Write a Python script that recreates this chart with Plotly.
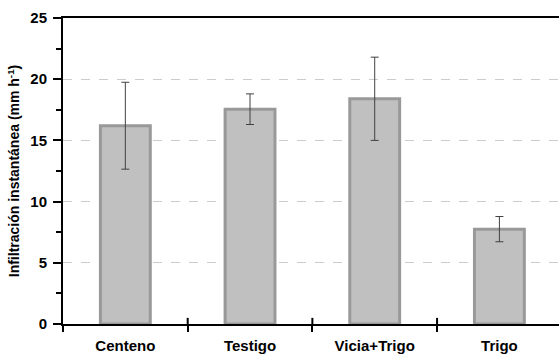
import plotly.graph_objects as go

categories = ["Centeno", "Testigo", "Vicia+Trigo", "Trigo"]
values = [16.2, 17.55, 18.4, 7.75]
errors = [3.55, 1.25, 3.4, 1.03]
y_ticks = [0, 5, 10, 15, 20, 25]

FONT = "Liberation Sans, Arial, sans-serif"

fig = go.Figure()
fig.add_trace(go.Bar(
    x=categories, y=values, width=0.4,
    marker=dict(color="#c0c0c0", line=dict(color="#999999", width=3)),
    error_y=dict(type="data", array=errors, visible=True, color="#404040",
                 thickness=1, width=4),
))

# category boundary ticks crossing the axis line (inside part)
for b in [0.5, 1.5, 2.5]:
    fig.add_shape(type="line", xref="x", yref="paper", x0=b, x1=b, y0=0, y1=0.02,
                  line=dict(color="black", width=2))

fig.update_layout(
    width=559, height=358,
    margin=dict(l=63, r=0, t=18, b=34),
    plot_bgcolor="white", paper_bgcolor="white",
    showlegend=False,
    font=dict(family=FONT, color="black"),
)
fig.update_xaxes(
    type="category", range=[-0.5, 3.478], automargin=False,
    showline=True, linecolor="black", linewidth=2, mirror=True,
    ticks="outside", tickson="boundaries", ticklen=6, tickwidth=2, tickcolor="black",
    tickfont=dict(size=15, family=FONT, weight="bold"),
    showgrid=False, zeroline=False, ticklabelstandoff=7,
)
fig.update_yaxes(
    range=[0, 25], tickvals=y_ticks, ticktext=[f"<b>{v}</b>" for v in y_ticks],
    automargin=False,
    showline=True, linecolor="black", linewidth=2,
    ticks="outside", ticklen=8, tickwidth=2, tickcolor="black",
    minor=dict(dtick=2.5, ticks="outside", ticklen=5, tickwidth=2, tickcolor="black", showgrid=False),
    tickfont=dict(size=15, family=FONT),
    showgrid=True, gridcolor="#cccccc", griddash="dash", gridwidth=1,
    zeroline=False, ticklabelstandoff=3,
    title=dict(text="<b>Infiltración instantánea (mm h<sup>-1</sup>)</b>",
               font=dict(size=14, family=FONT), standoff=7),
)

fig.write_html("out.html")
